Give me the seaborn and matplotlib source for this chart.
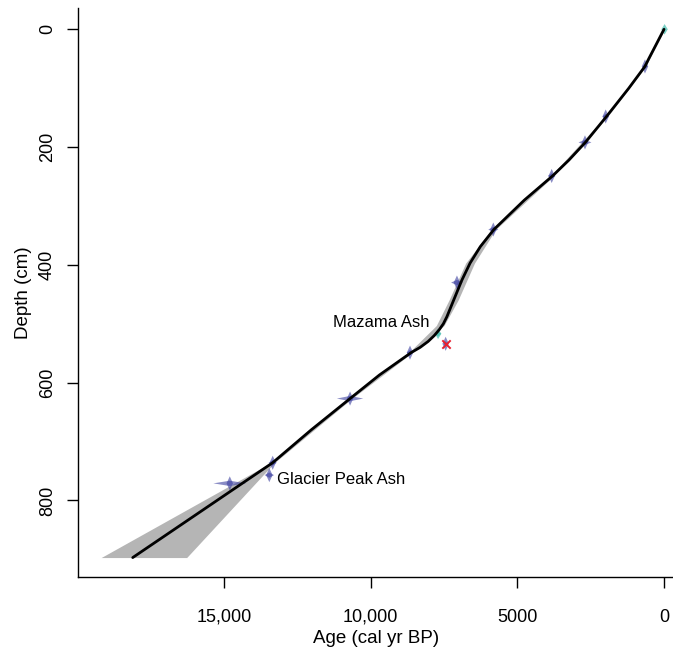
import numpy as np
import pandas as pd
import matplotlib
matplotlib.use("Agg")
import matplotlib.pyplot as plt
import seaborn as sns

# === AGE-DEPTH CURVE ===
curve_age = [0, 280, 520, 650, 1200, 1960, 2680, 3240, 3800, 4760, 5800, 6260,
             6610, 6890, 7170, 7400, 7520, 7660, 7830, 8040, 8310, 8620, 9700,
             10700, 12020, 13340, 18108]
curve_depth = [0, 27, 50, 63, 100, 148, 192, 222, 249, 290, 340, 369,
               397, 426, 460, 488, 500, 510, 520, 530, 540, 549, 587,
               627, 680, 736, 897]

# === UNCERTAINTY ENVELOPE ===
env_depth = [0, 63, 148, 249, 340, 397, 460, 503, 549, 627, 736, 897]
env_young = [-20, 620, 1920, 3760, 5740, 6460, 7020, 7500, 8580, 10640, 13280, 16270]
env_old = [20, 680, 2000, 3860, 5880, 6760, 7330, 7760, 8700, 10760, 13400, 19185]

# === DATED LEVELS (calibrated ages) ===
date_age = [648, 1987, 2693, 3828, 5818, 7057, 8657, 10700, 13337, 13452, 14800, 7442]
date_depth = [63, 148, 192, 249, 340, 430, 549, 627, 736, 757, 771, 534]
date_err = [90, 110, 220, 130, 170, 200, 110, 450, 140, 160, 560, 70]

# tephra / surface markers
teal_age = [-20, 7700]
teal_depth = [0, 517]
teal_err = [25, 110]
mazama_age = [7442]
mazama_depth = [534]

# === PLOTTING ===
sns.set_theme(style="ticks")
plt.rcParams["font.family"] = ["Liberation Sans", "DejaVu Sans"]
plt.rcParams["text.color"] = "black"
plt.rcParams["axes.labelcolor"] = "black"
plt.rcParams["xtick.color"] = "black"
plt.rcParams["ytick.color"] = "black"

fig = plt.figure(figsize=(6.73, 6.54), dpi=100)
ax = fig.add_axes([78.3 / 673, 1 - 577 / 654, 1 - 78.3 / 673, (577 - 8.3) / 654])

ax.fill_betweenx(env_depth, env_young, env_old, color="#b5b5b5", lw=0)


def star(a, d, w, h, color, alpha):
    # calibrated distribution drawn as two crossing diamonds
    ax.fill([a - w, a, a + w, a], [d, d - 4.5, d, d + 4.5], color=color, alpha=alpha, lw=0)
    ax.fill([a - 110, a, a + 110, a], [d, d - h, d, d + h], color=color, alpha=alpha, lw=0)


for a, d, w in zip(date_age, date_depth, date_err):
    star(a, d, w, 12, "#3b3f9f", 0.6)
for a, d, w in zip(teal_age, teal_depth, teal_err):
    star(a, d, w, 9, "#48bfb0", 0.7)

sns.lineplot(x=curve_age, y=curve_depth, sort=False, estimator=None,
             color="black", lw=2, ax=ax)
sns.scatterplot(x=mazama_age, y=mazama_depth, marker="x", color="#e8202f",
                s=36, linewidth=1.4, ax=ax, zorder=5)

ax.text(7980, 497, "Mazama Ash", ha="right", va="center", fontsize=12)
ax.text(13190, 764, "Glacier Peak Ash", ha="left", va="center", fontsize=12)

ax.set_xlim(19963, -307)
ax.set_ylim(930, -35.7)
ax.set_xticks([15000, 10000, 5000, 0])
ax.set_xticklabels(["15,000", "10,000", "5000", "0"])
ax.set_yticks([0, 200, 400, 600, 800])
ax.set_yticklabels(["0", "200", "400", "600", "800"], rotation=90, va="center")
ax.tick_params(axis="both", length=8, width=1, color="black", labelsize=13)
ax.tick_params(axis="x", pad=15)
ax.tick_params(axis="y", pad=8)
for s in ["top", "right"]:
    ax.spines[s].set_visible(False)
for s in ["left", "bottom"]:
    ax.spines[s].set_color("black")
    ax.spines[s].set_linewidth(1)

ax.set_xlabel("Age (cal yr BP)", fontsize=13.5, labelpad=3)
ax.set_ylabel("Depth (cm)", fontsize=13.5, labelpad=5)

plt.savefig("out.png", dpi=100)
